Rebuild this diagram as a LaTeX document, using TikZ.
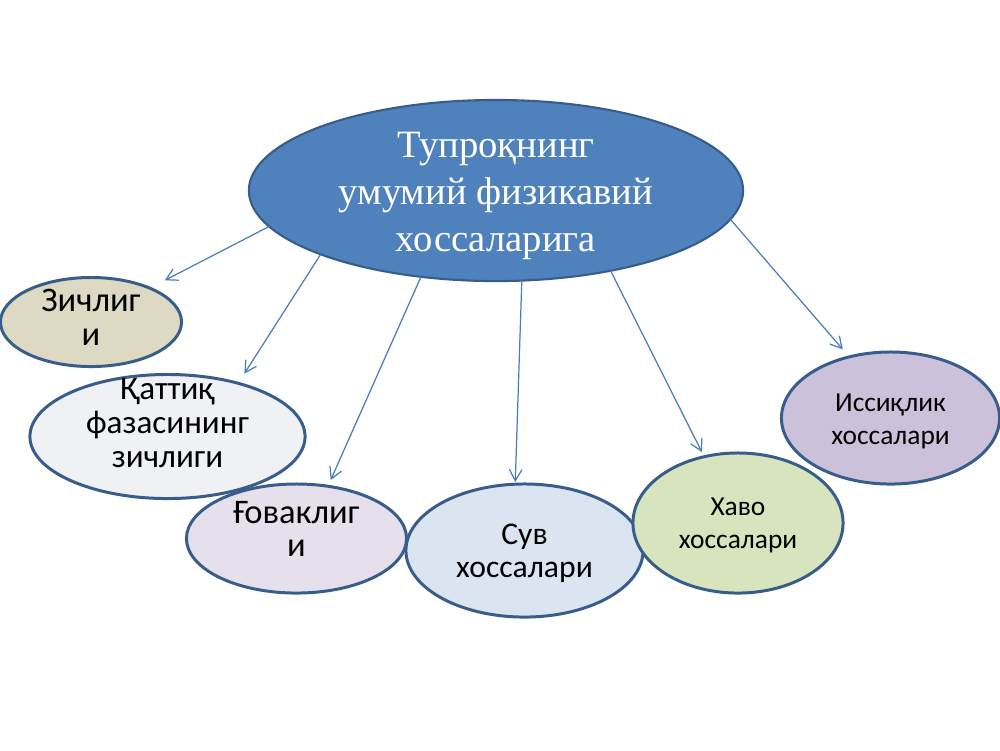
\documentclass[tikz,border=0pt]{standalone}
\usepackage{fontspec}
\setmainfont{Liberation Serif}
\newfontfamily\calib{Carlito}
\usetikzlibrary{shapes.geometric,arrows.meta}
\definecolor{topblue}{HTML}{4F81BD}
\definecolor{edgeblue}{HTML}{385D8A}
\definecolor{arrowblue}{HTML}{4A7EBB}
\definecolor{tanfill}{HTML}{DDD9C3}
\definecolor{greyfill}{HTML}{EFF1F5}
\definecolor{lilacfill}{HTML}{E6E0EC}
\definecolor{skyfill}{HTML}{DBE5F1}
\definecolor{greenfill}{HTML}{D7E4BD}
\definecolor{purplefill}{HTML}{CCC1DA}
\tikzstyle{bubble}=[ellipse,draw=edgeblue,line width=0.85pt,inner sep=0pt,outer sep=0pt]
\tikzstyle{lbl}=[align=center,text=black,font=\calib\fontsize{9}{9.4}\selectfont]
\tikzstyle{lblb}=[align=center,text=black,font=\calib\fontsize{9.8}{9.5}\selectfont]
\tikzstyle{lbls}=[align=center,text=black,font=\calib\fontsize{7.8}{9.4}\selectfont]
\tikzstyle{arrowb}=[draw=arrowblue,line width=0.35pt,-{Straight Barb[length=3.2pt,width=3.6pt]}]

\begin{document}
\begin{tikzpicture}[x=0.01cm,y=-0.01cm]
    \useasboundingbox (0,0) rectangle (1000,750);
    \node[bubble,fill=topblue,line width=0.6pt,minimum width=4.94cm,minimum height=1.81cm,
      label={[align=center,text=white,font=\fontsize{11}{13.4}\selectfont,yshift=-0.055cm]center:{Тупроқнинг\\умумий физикавий\\хоссаларига}}] (main) at (496,190.5) {};
    \node[bubble,fill=tanfill,minimum width=1.81cm,minimum height=0.89cm,
      label={[lblb,yshift=0.045cm]center:{Зичлиг\\и}}] (zich) at (91,322) {};
    \node[bubble,fill=greyfill,minimum width=2.75cm,minimum height=1.24cm,
      label={[lbl,font=\calib\fontsize{9.4}{9.8}\selectfont,yshift=0.135cm]center:{Қаттиқ\\фазасининг\\зичлиги}}] (katt) at (167.5,436.5) {};
    \node[bubble,fill=lilacfill,minimum width=2.2cm,minimum height=1.09cm,
      label={[lblb,yshift=0.095cm]center:{Ғоваклиг\\и}}] (gov) at (296.5,538.5) {};
    \node[bubble,fill=skyfill,minimum width=2.37cm,minimum height=1.33cm,
      label={[lbl,yshift=-0.025cm]center:{Сув\\хоссалари}}] (suv) at (524.5,550.5) {};
    \node[bubble,fill=greenfill,minimum width=2.1cm,minimum height=1.4cm,
      label={[lbls,yshift=-0.025cm]center:{Хаво\\хоссалари}}] (havo) at (738,523) {};
    \node[bubble,fill=purplefill,minimum width=2.18cm,minimum height=1.32cm,
      label={[lbls,yshift=-0.035cm]center:{Иссиқлик\\хоссалари}}] (issiq) at (890.5,418) {};

    \foreach \from/\to/\gap in {main.189.1/zich.30.2/0.17cm,main.200.6/katt.37.6/0.116cm,
      main.229.8/gov.59.2/0.068cm,main.286.6/suv.98.2/0.022cm,
      main.325.6/havo.117/0.052cm,main.353.5/issiq.124.7/0.099cm}
    \draw[arrowb,shorten >=\gap] (\from) -- (\to);
\end{tikzpicture}
\end{document}
